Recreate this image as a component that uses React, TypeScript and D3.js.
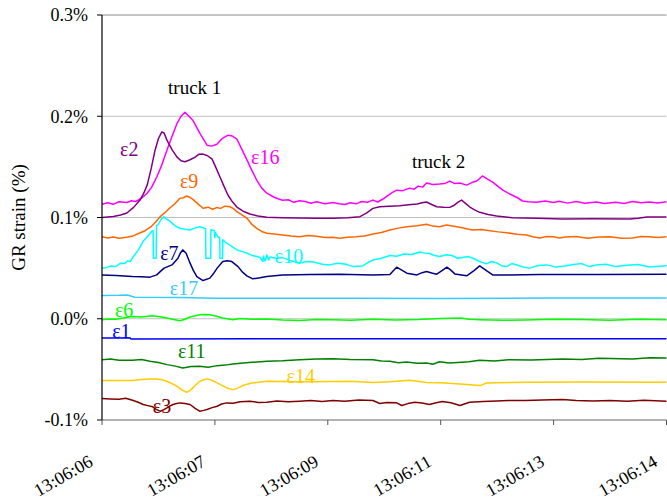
import React from "react";
import * as d3 from "d3";

// x: position along the time-category axis (0..100), y: GR strain (%)
const xTickLabels = ["13:06:06", "13:06:07", "13:06:09", "13:06:11", "13:06:13", "13:06:14"];
const yTicks = [-0.1, 0.0, 0.1, 0.2, 0.3];

const e16: [number, number][] = [[0,0.113],[1,0.1145],[2,0.113],[3,0.1155],[4.4,0.1148],[5.2,0.1165],[6,0.1158],[7,0.119],[8,0.124],[8.8,0.13],[9.7,0.14],[10.6,0.152],[11.5,0.1665],[12.4,0.18],[13.3,0.193],[14.0,0.2],[14.7,0.204],[15.4,0.2],[16.1,0.196],[17.35,0.183],[18.6,0.1714],[19.4,0.1705],[20.35,0.1724],[21.3,0.178],[22.3,0.1813],[23.1,0.1805],[23.9,0.1773],[24.8,0.167],[25.7,0.1567],[26.5,0.147],[27.4,0.137],[28.3,0.129],[29.2,0.124],[30.5,0.12],[31.2,0.1185],[32,0.117],[33,0.1175],[34,0.115],[35,0.1165],[36,0.1158],[37,0.114],[38,0.1155],[39.5,0.1135],[40.9,0.1148],[42,0.1135],[43,0.1128],[44,0.1145],[45,0.1135],[46,0.1158],[47,0.115],[48,0.1172],[48.85,0.1153],[49.7,0.118],[50.5,0.121],[51.4,0.1245],[52.2,0.127],[53.3,0.1265],[54.5,0.129],[55.3,0.128],[56,0.131],[56.8,0.13],[57.5,0.134],[58.6,0.1325],[59.8,0.133],[60.7,0.1335],[61.6,0.136],[62.5,0.1335],[63.4,0.134],[64.6,0.132],[65.5,0.1345],[66.4,0.136],[67.4,0.141],[68.3,0.138],[69.2,0.135],[70.1,0.131],[71,0.127],[71.8,0.1245],[72.7,0.122],[73.6,0.1195],[74.5,0.1163],[75.5,0.1155],[77,0.115],[78.5,0.1162],[80,0.1148],[81,0.116],[82.5,0.1142],[84,0.1158],[85.5,0.114],[87.6,0.1152],[89,0.1138],[91,0.115],[92.5,0.1138],[94,0.1158],[95.5,0.1145],[97,0.1152],[98.5,0.1143],[100,0.1156]];
const e2: [number, number][] = [[0,0.1],[2,0.101],[3.3,0.1025],[4.4,0.1044],[5.6,0.11],[6.7,0.117],[7.4,0.124],[8,0.132],[8.7,0.148],[9.4,0.1665],[10.0,0.178],[10.6,0.1845],[11.0,0.1835],[11.5,0.1764],[12.4,0.167],[13.3,0.1596],[14.0,0.156],[14.7,0.155],[15.6,0.157],[16.5,0.1596],[17.2,0.1625],[17.9,0.1626],[18.7,0.161],[19.5,0.1576],[20.2,0.149],[20.9,0.14],[21.6,0.131],[22.3,0.1222],[23.1,0.1155],[23.9,0.1103],[25,0.1062],[26.2,0.1034],[27.6,0.1015],[29.2,0.1002],[32,0.0998],[35,0.0995],[38,0.0993],[40.9,0.0992],[43.5,0.0998],[45.7,0.1008],[46.9,0.1045],[48,0.109],[49.2,0.1106],[50.8,0.1112],[52.7,0.1116],[54.3,0.1125],[55.8,0.1133],[56.7,0.1145],[57.5,0.1153],[58.4,0.1128],[59.3,0.1106],[60.5,0.1102],[61.6,0.11],[62.3,0.1118],[62.8,0.114],[63.3,0.116],[63.7,0.1172],[64.4,0.114],[65.1,0.1106],[66,0.1075],[66.9,0.1051],[68.4,0.103],[69.9,0.1015],[72.7,0.0998],[77,0.0992],[81.6,0.0985],[87,0.0988],[93.5,0.0985],[95,0.0992],[96.5,0.1005],[100,0.1005]];
const e9: [number, number][] = [[0,0.081],[1,0.0798],[2,0.0808],[3,0.0795],[4.4,0.0805],[5.5,0.0818],[6.7,0.0847],[7.7,0.0872],[8.7,0.0909],[9.5,0.0955],[10.3,0.1008],[11.1,0.1045],[12,0.1094],[12.9,0.1135],[13.8,0.1189],[14.4,0.1195],[15,0.1212],[15.6,0.1198],[16.1,0.1179],[17,0.1135],[17.9,0.1091],[18.8,0.1102],[19.6,0.1081],[20.3,0.1098],[21,0.109],[21.8,0.1112],[22.65,0.1106],[23.3,0.1088],[23.9,0.1057],[24.8,0.1025],[25.7,0.0992],[26.5,0.0935],[27.4,0.0893],[28.3,0.0862],[29.2,0.0844],[30.5,0.0838],[32,0.0828],[33.5,0.0818],[35,0.081],[36.5,0.0822],[38,0.0815],[39.5,0.0802],[40.9,0.0805],[42.1,0.0795],[43.5,0.0805],[45,0.081],[46.5,0.0818],[48,0.0837],[49.5,0.0852],[51,0.0877],[52.5,0.0895],[54,0.0909],[55.8,0.0918],[57.5,0.0933],[58.6,0.0915],[59.8,0.0909],[61,0.0925],[62.1,0.0916],[63.8,0.0898],[65.6,0.0877],[67.2,0.0882],[68.7,0.087],[70.2,0.0858],[71.7,0.085],[73.5,0.0835],[75.2,0.0828],[76.3,0.081],[77.5,0.0798],[78.8,0.0812],[80,0.081],[81,0.0798],[82.1,0.0808],[84,0.0812],[86,0.0795],[88,0.0808],[90,0.081],[92,0.0795],[94,0.0798],[95.5,0.0812],[97,0.081],[98.5,0.0802],[100,0.0811]];
const e10: [number, number][] = [[0,0.0498],[0.8,0.0505],[1.5,0.052],[2.4,0.0515],[3.3,0.0549],[4,0.0545],[4.5,0.057],[5.0,0.0565],[5.5,0.061],[6.4,0.0675],[7.26,0.0762],[8.1,0.0815],[8.9,0.087],[9.05,0.087],[9.1,0.0598],[9.6,0.0598],[9.65,0.092],[9.9,0.0926],[10.4,0.0975],[10.9,0.1008],[11.4,0.0985],[12,0.0966],[12.9,0.092],[13.8,0.0894],[14.7,0.0885],[15.6,0.0877],[16.4,0.0895],[17.35,0.0909],[18.35,0.089],[18.4,0.0598],[19.25,0.0598],[19.3,0.088],[19.5,0.0877],[19.9,0.087],[20.0,0.08],[20.1,0.085],[20.5,0.081],[20.85,0.08],[20.9,0.0598],[21.35,0.0598],[21.4,0.078],[22.1,0.0746],[23,0.0715],[23.9,0.068],[24.8,0.0665],[25.7,0.0647],[26.5,0.0628],[27.4,0.0614],[28.0,0.0605],[28.5,0.0565],[28.6,0.062],[28.9,0.057],[29.2,0.063],[29.5,0.058],[29.8,0.061],[30.8,0.0598],[32,0.0604],[33.5,0.0572],[35,0.0549],[36.2,0.0565],[37.5,0.056],[39,0.0538],[40.35,0.0532],[41.7,0.0548],[43,0.054],[44.6,0.0515],[46.2,0.0522],[47.1,0.0555],[48,0.058],[49.5,0.0598],[51,0.0625],[52.2,0.0618],[53.5,0.064],[54.9,0.0635],[56.3,0.066],[57.2,0.0648],[58,0.0645],[58.9,0.0625],[59.8,0.0614],[61,0.0632],[62,0.0625],[63,0.0598],[63.9,0.0606],[64.8,0.0615],[65.7,0.0598],[66.9,0.0565],[68.1,0.0542],[69,0.0565],[70,0.055],[70.9,0.052],[71.7,0.0515],[72.6,0.0545],[73.5,0.053],[74.6,0.0512],[75.75,0.05],[77.3,0.0525],[78.8,0.0532],[80.4,0.051],[82,0.052],[83.5,0.0535],[85,0.0545],[86.3,0.0515],[87.6,0.053],[89.3,0.0538],[91,0.0515],[93,0.0528],[95,0.0535],[97,0.0512],[99.3,0.0522],[100,0.0525]];
const e7: [number, number][] = [[0,0.0433],[2.5,0.0428],[5.4,0.0417],[7,0.0415],[8.5,0.0411],[9.7,0.0433],[10.4,0.047],[11.0,0.05],[12.4,0.0532],[13.45,0.0598],[13.9,0.065],[14.3,0.068],[14.9,0.0647],[15.6,0.0549],[16.2,0.0475],[16.8,0.0417],[17.9,0.0377],[19.1,0.0401],[19.8,0.045],[20.4,0.05],[21.4,0.0565],[22.2,0.0572],[23.0,0.0565],[24.1,0.0515],[24.9,0.046],[25.66,0.0424],[26.7,0.0394],[28,0.0405],[29.2,0.0417],[32,0.0433],[37,0.0438],[42.1,0.044],[47.96,0.0433],[51,0.0438],[51.6,0.0475],[52.2,0.0509],[53.1,0.048],[54,0.045],[55.8,0.0433],[56.7,0.0455],[57.5,0.0466],[58.4,0.0452],[59.3,0.044],[60.3,0.0478],[61.1,0.0509],[61.8,0.048],[62.5,0.0443],[64.6,0.0424],[65.9,0.0475],[66.9,0.0522],[68.1,0.0476],[69.2,0.0433],[72,0.0432],[77.5,0.0438],[88,0.0438],[100,0.044]];
const e17: [number, number][] = [[0,0.023],[3,0.0232],[4.5,0.0235],[5.8,0.0213],[14,0.021],[20,0.0202],[30,0.0203],[45,0.0202],[60,0.0201],[80,0.0204],[100,0.0204]];
const e6: [number, number][] = [[0,-0.001],[1.2,-0.0003],[2.5,-0.0005],[4,0.001],[5.4,0.0023],[7,0.0018],[8.9,0.003],[10.2,0.002],[11.5,0.0007],[12.7,-0.0008],[13.8,-0.002],[14.7,-0.0005],[15.6,0.0017],[17.3,0.0039],[18.2,0.0043],[19.1,0.0039],[20.3,0.0025],[21.4,0.0007],[23.2,-0.001],[24.4,0.0003],[26.5,-0.0005],[29.2,-0.0003],[32,-0.0012],[35,-0.0017],[38,-0.0008],[40.9,-0.001],[44,-0.0015],[48,-0.0006],[52,-0.0012],[56,-0.0008],[60,0.0002],[63.5,0.0007],[65,-0.0005],[67,-0.001],[71,-0.0016],[75,-0.0013],[80,-0.0006],[85,-0.0008],[90,-0.0015],[95,-0.0006],[100,-0.001]];
const e1: [number, number][] = [[0,-0.0189],[5,-0.0189],[5.1,-0.0199],[30,-0.0197],[60,-0.0198],[100,-0.0197]];
const e11: [number, number][] = [[0,-0.0404],[1.5,-0.0398],[3,-0.041],[5.4,-0.0411],[7,-0.0402],[8.5,-0.042],[10,-0.0432],[11.5,-0.0453],[13,-0.0468],[14.3,-0.0486],[15.8,-0.0472],[17.3,-0.047],[18.8,-0.0478],[20.4,-0.0463],[21.8,-0.0458],[23.2,-0.0446],[26,-0.0432],[29.2,-0.042],[32,-0.0415],[35,-0.0404],[38,-0.0398],[40.9,-0.0394],[44,-0.0402],[48,-0.0404],[49.5,-0.0418],[51,-0.042],[52.5,-0.0435],[54,-0.0428],[55.8,-0.044],[57.5,-0.0438],[58.6,-0.045],[59.8,-0.0424],[61.5,-0.0438],[63,-0.0432],[65,-0.0425],[66.9,-0.0411],[69.5,-0.0418],[72,-0.0405],[76,-0.0408],[81.6,-0.0397],[85,-0.0402],[88,-0.039],[90,-0.0392],[94,-0.0398],[97,-0.0385],[100,-0.0387]];
const e14: [number, number][] = [[0,-0.0611],[5.4,-0.0611],[7,-0.06],[8.5,-0.0594],[9.7,-0.0594],[10.6,-0.0603],[11.5,-0.0618],[12.4,-0.064],[13.3,-0.0667],[14.2,-0.0705],[15,-0.0726],[15.6,-0.071],[16.1,-0.0683],[16.7,-0.065],[17.3,-0.0618],[18.0,-0.0602],[18.6,-0.0594],[19.5,-0.0608],[20.4,-0.0633],[21.3,-0.066],[22.1,-0.0683],[23.2,-0.07],[24.1,-0.0685],[24.9,-0.066],[26.7,-0.0633],[29.2,-0.0618],[35,-0.0622],[40.9,-0.062],[44,-0.0618],[48,-0.063],[51,-0.0622],[54.5,-0.0608],[57.5,-0.063],[60,-0.0632],[63.4,-0.0645],[65.3,-0.0652],[67,-0.066],[68.1,-0.0635],[72,-0.063],[75,-0.0627],[85,-0.0624],[100,-0.0627]];
const e3: [number, number][] = [[0,-0.0788],[1.5,-0.0792],[3,-0.0795],[4.2,-0.0785],[5.4,-0.0805],[6.3,-0.0822],[7.3,-0.0847],[8.1,-0.0858],[9.0,-0.087],[9.6,-0.0895],[10.3,-0.0913],[10.9,-0.09],[11.5,-0.088],[12.0,-0.0862],[12.6,-0.0847],[13.2,-0.0838],[13.8,-0.0831],[14.7,-0.0838],[15.6,-0.0847],[16.5,-0.0885],[17.3,-0.0913],[18.0,-0.0905],[18.6,-0.0897],[19.5,-0.0878],[20.4,-0.0864],[21.2,-0.0842],[22.1,-0.0831],[23.2,-0.0835],[24.5,-0.082],[26.2,-0.0815],[27.7,-0.0826],[29.2,-0.0825],[31,-0.0812],[33,-0.082],[35,-0.0815],[37,-0.0808],[39,-0.0818],[40.9,-0.0808],[43,-0.0815],[45.5,-0.0802],[48,-0.0808],[49.2,-0.0837],[50.5,-0.0828],[52.2,-0.083],[53.1,-0.0857],[54.2,-0.0838],[55.4,-0.0825],[56.7,-0.0832],[58,-0.0847],[59.2,-0.083],[60.3,-0.0818],[61.8,-0.083],[63.4,-0.0857],[64.2,-0.0842],[65.1,-0.0825],[67.5,-0.0818],[69.9,-0.0813],[72,-0.0808],[75,-0.0808],[78,-0.0802],[81.6,-0.0798],[84,-0.0808],[87,-0.0812],[90,-0.0808],[93,-0.0815],[96,-0.0805],[100,-0.0815]];

const seriesNames = ["ε16", "ε2", "ε9", "ε10", "ε7", "ε17", "ε6", "ε1", "ε11", "ε14", "ε3"];
const seriesData = [e16, e2, e9, e10, e7, e17, e6, e1, e11, e14, e3];
const seriesColors = ["#FF00FF", "#800080", "#FF6600", "#00FFFF", "#000080", "#33CCFF", "#00FF00", "#0000FF", "#008000", "#FFCC00", "#800000"];
// label anchors in data coordinates [x, strain]
const seriesLabelPos: [number, number][] = [[26.4,0.1528],[3.2,0.1607],[13.8,0.1291],[30.6,0.0551],[10.3,0.058],[12.0,0.0235],[2.3,0.002],[1.8,-0.019],[13.45,-0.0388],[32.7,-0.0635],[9.0,-0.0931]];
const annotations = ["truck 1", "truck 2"];
const annotationPos: [number, number][] = [[11.7,0.222],[54.9,0.1489]];

const W = 667, H = 499;
const FONT = "Liberation Serif, DejaVu Serif, serif";
const fmtPct = (v: number) => (v < 0 ? "-" : "") + Math.abs(v).toFixed(1) + "%";

export default function App() {
  const x = d3.scaleLinear().domain([0, 100]).range([102, 666.5]);
  const y = d3.scaleLinear().domain([-0.1, 0.3]).range([420, 15]);
  const line = d3.line<[number, number]>().x(d => x(d[0])).y(d => y(d[1]));
  const xTickPos = xTickLabels.map((_, i) => (i * 100) / (xTickLabels.length - 1));
  const ts = { fontFamily: FONT };

  return (
    <svg width={W} height={H} style={{ position: "absolute", left: 0, top: 0, background: "#fff" }}>
      {yTicks.filter(v => v > -0.1).map(v => (
        <line key={v} x1={x(0)} x2={x(100)} y1={y(v)} y2={y(v)} stroke={v === 0.3 ? "#8c8c8c" : "#c0c0c0"} strokeWidth={1} />
      ))}
      {seriesData.map((d, i) => (
        <path key={seriesNames[i]} d={line(d) || ""} fill="none" stroke={seriesColors[i]} strokeWidth={1.5} strokeLinejoin="round" />
      ))}
      <line x1={x(0)} x2={x(100)} y1={y(-0.1)} y2={y(-0.1)} stroke="#666" strokeWidth={1.2} />
      <line x1={x(0)} x2={x(0)} y1={y(0.3)} y2={y(-0.1)} stroke="#000" strokeWidth={1.2} />
      {yTicks.map(v => (
        <g key={"yt" + v}>
          <line x1={x(0) - 5} x2={x(0)} y1={y(v)} y2={y(v)} stroke="#000" strokeWidth={1} />
          <text x={x(0) - 14} y={y(v)} dy="0.35em" textAnchor="end" fontSize={18} fill="#000" style={ts}>
            {fmtPct(v)}
          </text>
        </g>
      ))}
      {xTickPos.map((t, i) => (
        <g key={"xt" + i}>
          <line x1={x(t)} x2={x(t)} y1={y(-0.1)} y2={y(-0.1) + 5} stroke="#555" strokeWidth={1} />
          <text transform={`translate(${x(t) - 8},${465}) rotate(-30)`} textAnchor="end" fontSize={18} fill="#000" style={ts}>
            {xTickLabels[i]}
          </text>
        </g>
      ))}
      <text transform={`translate(25,${y(0.1)}) rotate(-90)`} textAnchor="middle" fontSize={19} fill="#000" style={ts}>
        GR strain (%)
      </text>
      {seriesNames.map((n, i) => (
        <text key={"lb" + n} x={x(seriesLabelPos[i][0])} y={y(seriesLabelPos[i][1])} fontSize={20} fill={seriesColors[i]} style={ts}>
          {n}
        </text>
      ))}
      {annotations.map((a, i) => (
        <text key={a} x={x(annotationPos[i][0])} y={y(annotationPos[i][1])} fontSize={19} fill="#000" style={ts}>
          {a}
        </text>
      ))}
    </svg>
  );
}
